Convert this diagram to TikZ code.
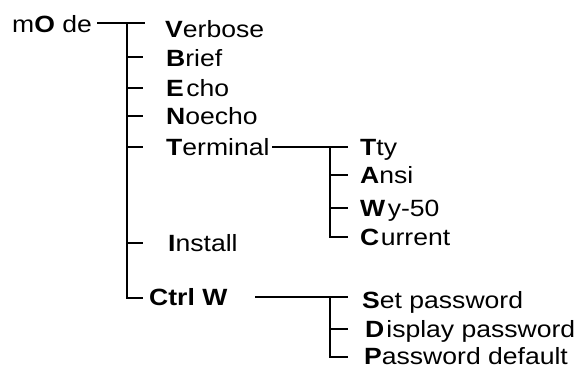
\documentclass[tikz,border=0pt]{standalone}
\usepackage{fontspec}
\setmainfont{Liberation Sans}[FakeStretch=1.13]
\begin{document}
\begin{tikzpicture}[x=1pt,y=-1pt,
  wire/.style={line width=1.9pt, line join=miter},
  lbl/.style={anchor=base west, inner sep=0pt, font=\fontsize{23.5}{26}\selectfont}]
\useasboundingbox (0,0) rectangle (579,368);
% labels
\node[lbl] (mode) at (12,32) {m\textbf{O} de};
\node[lbl] (verbose) at (165,37) {\textbf{V}erbose};
\node[lbl] (brief) at (166,66) {\textbf{B}rief};
\node[lbl] (echo) at (166,96) {\textbf{E}\hspace{2.5pt}cho};
\node[lbl] (noecho) at (166,124) {\textbf{N}oecho};
\node[lbl] (terminal) at (166,155) {\textbf{T}erminal};
\node[lbl] (install) at (168,251) {\textbf{I}nstall};
\node[lbl] (ctrlw) at (149,305) {\textbf{Ctrl W}};
\node[lbl] (tty) at (360,155) {\textbf{T}ty};
\node[lbl] (ansi) at (360,183) {\textbf{A}nsi};
\node[lbl] (wy) at (360,216) {\textbf{W}\hspace{2.5pt}y-50};
\node[lbl] (current) at (360,245) {\textbf{C}\hspace{1.5pt}urrent};
\node[lbl] (setpw) at (362,308) {\textbf{S}et password};
\node[lbl] (disppw) at (365,337) {\textbf{D}\hspace{2pt}isplay password};
\node[lbl] (pwdef) at (364,364) {\textbf{P}assword default};
% tree coordinates
\coordinate (m0) at (97,23);
\coordinate (m1) at (145,23);
\coordinate (t0) at (127,23);
\coordinate (tb) at (127,298);
\coordinate (tbe) at (143,298);
\coordinate (s0) at (272,147);
\coordinate (s1) at (330,147);
\coordinate (s1e) at (348,147);
\coordinate (sb) at (330,237);
\coordinate (sbe) at (348,237);
\coordinate (c0) at (255,297);
\coordinate (c1) at (330,297);
\coordinate (c1e) at (348,297);
\coordinate (cb) at (330,357);
\coordinate (cbe) at (348,357);
% main trunk
\draw[wire] (m0) -- (m1);
\draw[wire] (t0) -- (tb) -- (tbe);
\foreach \y in {57,88,116,147,243} \draw[wire] (127,\y) -- (143,\y);
% terminal subtree
\draw[wire] (s0) -- (s1e);
\draw[wire] (s1) -- (sb) -- (sbe);
\foreach \y in {175,208} \draw[wire] (330,\y) -- (348,\y);
% ctrl w subtree
\draw[wire] (c0) -- (c1e);
\draw[wire] (c1) -- (cb) -- (cbe);
\draw[wire] (330,329) -- (348,329);
\end{tikzpicture}
\end{document}
